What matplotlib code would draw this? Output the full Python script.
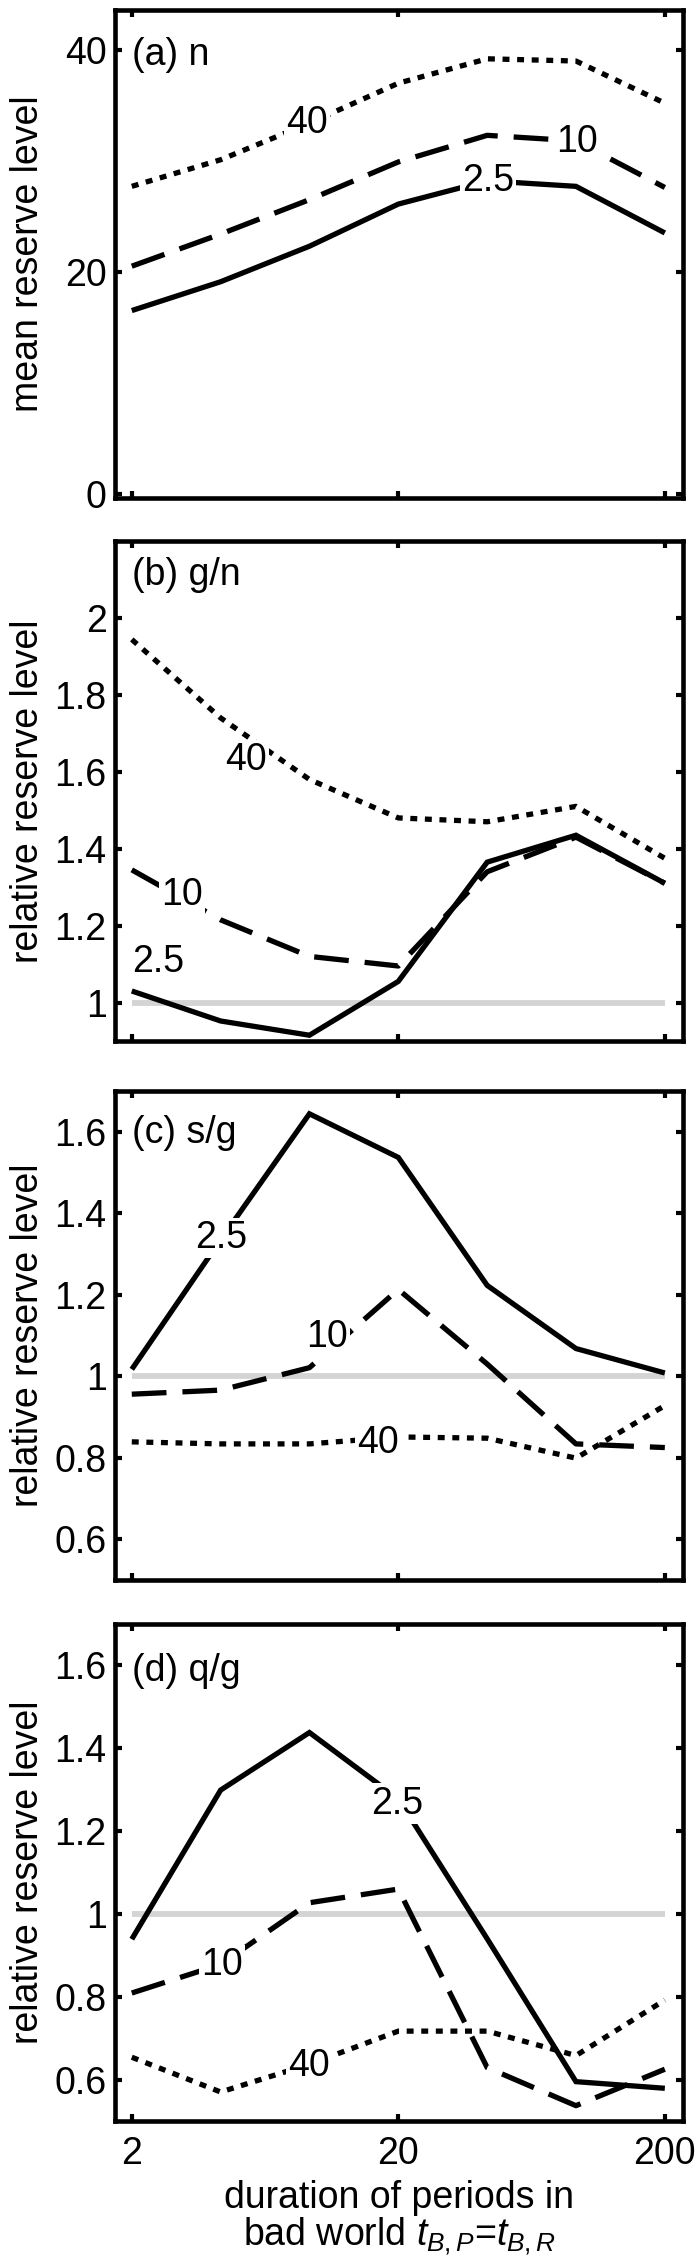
import matplotlib
matplotlib.use('Agg')
import matplotlib.pyplot as plt

plt.rcParams['font.family'] = ['Liberation Sans', 'DejaVu Sans']
plt.rcParams['mathtext.fontset'] = 'custom'
plt.rcParams['mathtext.rm'] = 'Liberation Sans'
plt.rcParams['mathtext.it'] = 'Liberation Sans:italic'
plt.rcParams['lines.scale_dashes'] = False

# durations of bad periods (log spaced)
x = [2, 4.31, 9.28, 20, 43.1, 92.8, 200]
ref_x = [2, 200]
ref_y = 1.0

# (a) n : mean reserve level
n_25 = [16.5, 19.1, 22.3, 26.1, 28.2, 27.7, 23.5]
n_10 = [20.5, 23.4, 26.5, 29.9, 32.3, 31.8, 27.6]
n_40 = [27.7, 30.1, 33.4, 37.0, 39.2, 39.0, 35.2]

# (b) g/n
gn_25 = [1.03, 0.952, 0.915, 1.055, 1.365, 1.435, 1.31]
gn_10 = [1.345, 1.215, 1.12, 1.095, 1.34, 1.43, 1.31]
gn_40 = [1.944, 1.74, 1.58, 1.48, 1.47, 1.51, 1.375]

# (c) s/g
sg_25 = [1.017, 1.335, 1.644, 1.537, 1.223, 1.068, 1.008]
sg_10 = [0.956, 0.966, 1.021, 1.213, 1.03, 0.834, 0.825]
sg_40 = [0.839, 0.834, 0.834, 0.851, 0.848, 0.799, 0.928]

# (d) q/g
qg_25 = [0.939, 1.299, 1.438, 1.278, 0.94, 0.595, 0.579]
qg_10 = [0.809, 0.878, 1.027, 1.06, 0.629, 0.537, 0.625]
qg_40 = [0.654, 0.57, 0.637, 0.717, 0.717, 0.658, 0.792]

names = ['2.5', '10', '40']
panel_titles = ['(a) n', '(b) g/n', '(c) s/g', '(d) q/g']
ylabels = ['mean reserve level', 'relative reserve level',
           'relative reserve level', 'relative reserve level']
ylims = [(-0.4, 43.6), (0.9, 2.2), (0.5, 1.7), (0.5, 1.7)]
yticks = [[0, 20, 40], [1, 1.2, 1.4, 1.6, 1.8, 2],
          [0.6, 0.8, 1, 1.2, 1.4, 1.6], [0.6, 0.8, 1, 1.2, 1.4, 1.6]]
series = [[n_25, n_10, n_40], [gn_25, gn_10, gn_40],
          [sg_25, sg_10, sg_40], [qg_25, qg_10, qg_40]]

# inline label positions (x, y) for 2.5 / 10 / 40
label_pos = [
    [(43.4, 28.2), (93.3, 31.7), (9.1, 33.4)],
    [(2.52, 1.105), (3.09, 1.28), (5.37, 1.63)],
    [(4.32, 1.339), (10.8, 1.097), (16.8, 0.835)],
    [(19.8, 1.266), (4.37, 0.876), (9.25, 0.633)],
]
title_y = [0.908, 0.932, 0.914, 0.905]

FS = 27
W, H = 700, 2268
fig = plt.figure(figsize=(W / 100, H / 100), dpi=100)

left, right = 115, 683
tops = [10, 541, 1091, 1624]
bottoms = [498, 1041, 1580, 2121]

styles = [
    dict(linestyle='-'),
    dict(linestyle=(0, (25, 11.5))),
    dict(linestyle=(0, (5, 5.5))),
]

for i in range(4):
    ax = fig.add_axes([left / W, 1 - bottoms[i] / H, (right - left) / W,
                       (bottoms[i] - tops[i]) / H])
    ax.set_xscale('log')
    ax.set_xlim(1.73, 234)
    ax.set_ylim(*ylims[i])

    if i > 0:
        ax.plot(ref_x, [ref_y, ref_y], color='#d4d4d4', lw=4.2,
                solid_capstyle='butt', zorder=1)

    for j in range(3):
        ax.plot(x, series[i][j], color='black', lw=3.8,
                dash_capstyle='butt', solid_capstyle='butt',
                solid_joinstyle='miter', zorder=2, **styles[j])
        lx, ly = label_pos[i][j]
        ax.text(lx, ly, names[j], fontsize=FS, ha='center', va='center',
                zorder=4,
                bbox=dict(facecolor='white', edgecolor='none', pad=1.5))

    ax.text(0.03, title_y[i], panel_titles[i], transform=ax.transAxes,
            fontsize=FS, ha='left', va='center')

    ax.set_xticks([2, 20, 200])
    ax.xaxis.set_minor_locator(matplotlib.ticker.NullLocator())
    ax.set_yticks(yticks[i])
    ax.set_yticklabels(['%g' % v for v in yticks[i]])
    if i == 3:
        ax.set_xticklabels(['2', '20', '200'])
    else:
        ax.set_xticklabels([])

    ax.tick_params(direction='in', length=5, width=3, top=True, right=True,
                   labelsize=FS)
    ax.tick_params(axis='y', pad=6)
    ax.tick_params(axis='x', pad=11)
    for sp in ax.spines.values():
        sp.set_linewidth(3.3)
        sp.set_zorder(5)

    ax.set_ylabel(ylabels[i], fontsize=FS)
    ax.yaxis.set_label_coords(-0.122, 0.5)

    if i == 3:
        ax.set_xlabel('duration of periods in\nbad world $t_{B,P}$=$t_{B,R}$',
                      fontsize=FS, linespacing=1.0)
        ax.xaxis.set_label_coords(0.5, -0.118)

fig.savefig('out.png', dpi=100)
plt.close(fig)
